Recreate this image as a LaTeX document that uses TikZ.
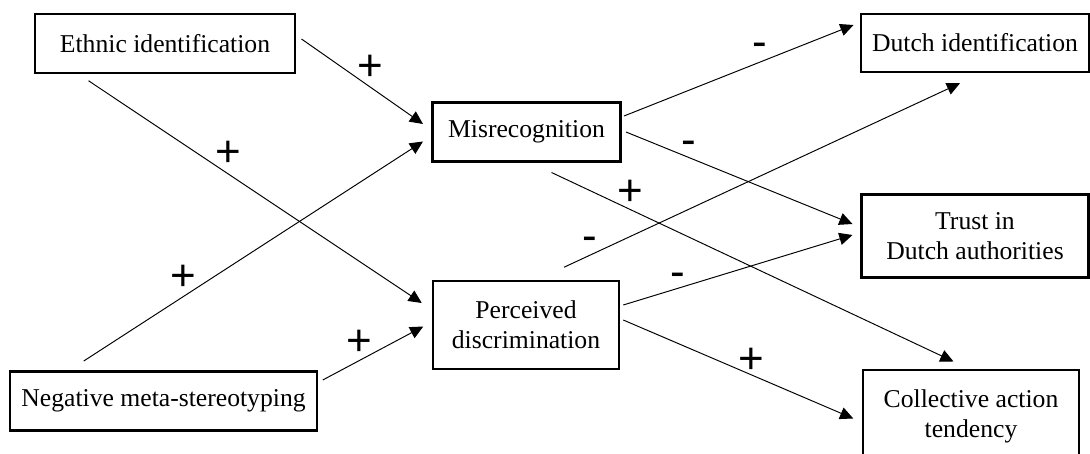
\documentclass[tikz,border=0pt]{standalone}
\usepackage{fontspec}
\setmainfont{Liberation Serif}
\newfontfamily\signfont{Liberation Sans}
\usetikzlibrary{arrows.meta}

\begin{document}
\begin{tikzpicture}[
        box/.style={draw,line width=1.3pt,inner sep=0pt,outer sep=0pt,align=center,font=\fontsize{14.6}{17}\selectfont},
        link/.style={-{Triangle[length=7.5pt,width=7pt]},line width=0.55pt},
        possign/.style={inner sep=0pt,font=\fontsize{25}{25}\signfont,yshift=-1.4pt},
        negsign/.style={inner sep=0pt,font=\fontsize{25}{25}\signfont,yshift=-2.9pt}]
            \useasboundingbox (0,0) rectangle (21.8,9.06);
            \node[box,minimum width=5.2cm,minimum height=1.17cm] (eth) at (3.30,8.19) {Ethnic identification};
            \node[box,minimum width=6.13cm,minimum height=1.18cm] (neg) at (3.27,1.04) {Negative meta-stereotyping};
            \node[box,minimum width=3.76cm,minimum height=1.18cm] (mis) at (10.53,6.42) {Misrecognition};
            \node[box,minimum width=3.73cm,minimum height=1.77cm] (perc) at (10.52,2.56) {Perceived\\discrimination};
            \node[box,minimum width=4.56cm,minimum height=1.15cm] (dut) at (19.50,8.20) {Dutch identification};
            \node[box,minimum width=4.54cm,minimum height=1.66cm] (tru) at (19.50,4.34) {Trust in\\Dutch authorities};
            \node[box,minimum width=4.33cm,minimum height=1.86cm] (col) at (19.42,0.73) {Collective action\\tendency};

            \draw[link] ([shift={(0.13,0.09)}]eth.east) -- ([shift={(-0.19,0.16)}]mis.west);
            \draw[link] ([shift={(1.07,-0.16)}]eth.south west) -- ([shift={(-0.22,0.44)}]perc.west);
            \draw[link] ([shift={(1.47,0.21)}]neg.north west) -- ([shift={(-0.19,-0.19)}]mis.west);
            \draw[link] ([shift={(0.12,-0.17)}]neg.north east) -- ([shift={(-0.19,-0.03)}]perc.west);
            \draw[link] ([shift={(0.07,0.32)}]mis.east) -- ([shift={(-0.15,0.36)}]dut.west);
            \draw[link] ([shift={(0.11,0)}]mis.east) -- ([shift={(-0.18,0.24)}]tru.west);
            \draw[link] ([shift={(0.50,-0.22)}]mis.south) -- ([shift={(-0.35,0.17)}]col.north);
            \draw[link] ([shift={(0.76,0.27)}]perc.north) -- ([shift={(-0.30,-0.23)}]dut.south);
            \draw[link] ([shift={(0.08,0.40)}]perc.east) -- ([shift={(-0.18,0.02)}]tru.west);
            \draw[link] ([shift={(0.08,0.10)}]perc.east) -- ([shift={(-0.19,-0.04)}]col.west);

            \node[possign] (s1) at (7.41,7.76) {+};
            \node[possign] (s2) at (4.56,6.03) {+};
            \node[possign] (s3) at (3.67,3.56) {+};
            \node[possign] (s4) at (7.19,2.26) {+};
            \node[negsign] (s5) at (15.19,8.16) {-};
            \node[negsign] (s6) at (13.77,6.21) {-};
            \node[possign] (s7) at (12.60,5.26) {+};
            \node[negsign] (s8) at (11.80,4.28) {-};
            \node[negsign] (s9) at (13.55,3.56) {-};
            \node[possign] (s10) at (15.03,1.89) {+};
\end{tikzpicture}
\end{document}
